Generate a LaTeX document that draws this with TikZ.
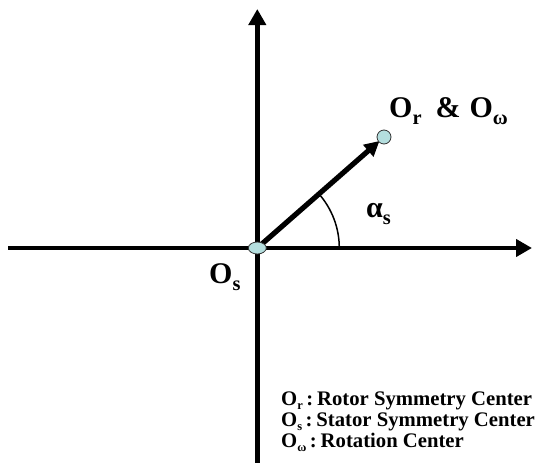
\documentclass[tikz,border=0pt]{standalone}
\usepackage{fontspec}
\setmainfont{Liberation Serif}
\usetikzlibrary{arrows.meta,shapes.geometric}
\definecolor{dotfill}{RGB}{180,222,222}
\newcommand{\lsub}[1]{\raisebox{-0.55ex}{\scalebox{0.68}{#1}}}
\newcommand{\ssub}[1]{\raisebox{-0.45ex}{\scalebox{0.6}{#1}}}
\begin{document}
\begin{tikzpicture}[x=1pt,y=-1pt,
  axis/.style={line width=4.8pt,-{Triangle[length=16pt,width=17pt]}},
  vec/.style={line width=5.2pt,-{Triangle[length=15pt,width=15pt]}},
  dot/.style={draw=black!80,line width=0.8pt,fill=dotfill},
  big/.style={font=\fontsize{30}{32}\selectfont\bfseries,inner sep=0pt},
  legend/.style={font=\fontsize{20.7}{22}\selectfont\bfseries,inner sep=0pt,anchor=base west}]
\useasboundingbox (0,0) rectangle (541,463);
\coordinate (O) at (257.3,248);
\coordinate (P) at (384,137);
\coordinate (xl) at (8,248);
\coordinate (xr) at (532,248);
\coordinate (yb) at (257.3,463);
\coordinate (yt) at (257.3,9);
\coordinate (arcstart) at (339.3,248);
\draw[axis] (xl) -- (xr);
\draw[axis] (yb) -- (yt);
\draw[line width=1.5pt] (arcstart) arc[start angle=0,end angle=-41,radius=82];
\draw[vec,shorten >=6pt] (O) -- (P);
\node[dot,ellipse,minimum width=18pt,minimum height=12pt,inner sep=0pt] (os) at (O) {};
\node[dot,circle,minimum size=14pt,inner sep=0pt] (or) at (P) {};
\node[big,anchor=base west] (lor) at (389,117) {O\lsub{r}\hspace{14pt}\&\hspace{9pt}O\lsub{ω}};
\node[big,anchor=base west] (lal) at (366,217) {α\lsub{s}};
\node[big,anchor=base west] (los) at (209,283) {O\lsub{s}};
\node[legend] (l1) at (281,405) {O\ssub{r}\,:\hspace{4pt}Rotor Symmetry Center};
\node[legend] (l2) at (281,426) {O\ssub{s}\,:\hspace{4pt}Stator Symmetry Center};
\node[legend] (l3) at (281,447) {O\ssub{ω}\,:\hspace{4pt}Rotation Center};
\end{tikzpicture}
\end{document}
